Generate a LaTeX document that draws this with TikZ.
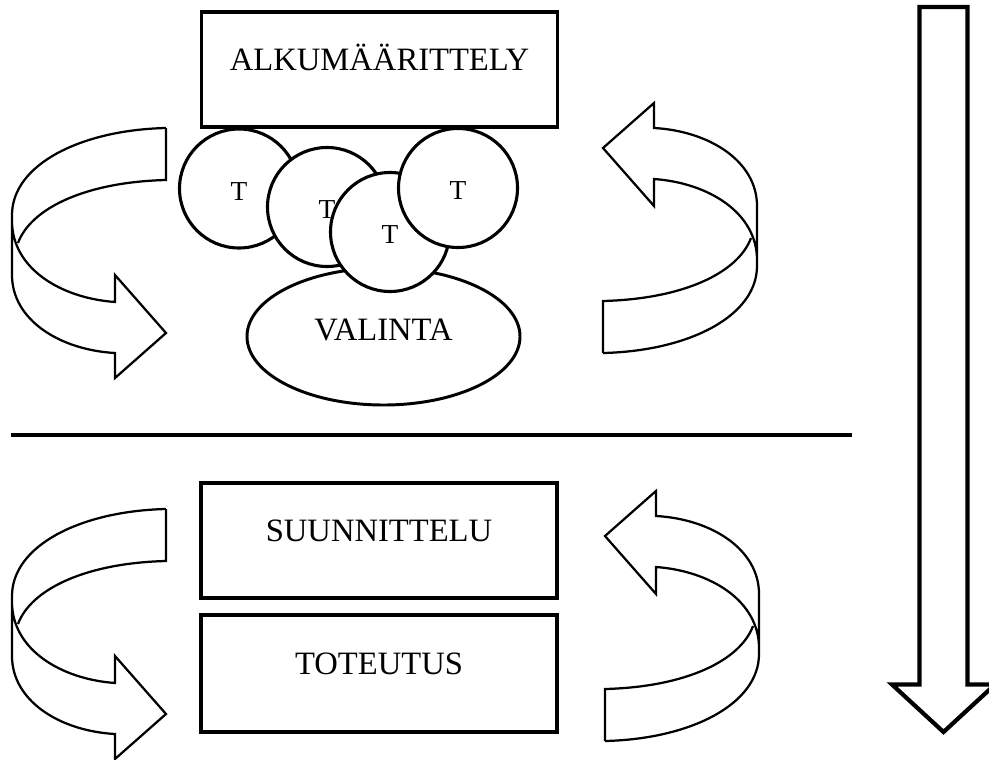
\documentclass[tikz,border=0pt]{standalone}
\usepackage{fontspec}
\setmainfont{Liberation Serif}
\usetikzlibrary{shapes.geometric}

\tikzset{
  phasebox/.style={draw, line width=2.5pt, fill=white, minimum width=89mm,
    minimum height=28.75mm, text height=15pt, text depth=13pt,
    font=\fontsize{23.2}{26}\selectfont},
  choice/.style={draw, ellipse, line width=2.1pt, fill=white,
    minimum width=68.25mm, minimum height=34.25mm, text height=15pt,
    text depth=10pt, font=\fontsize{23.2}{26}\selectfont},
  topic/.style={draw, circle, line width=2.2pt, fill=white, inner sep=0pt,
    minimum size=29.75mm, text height=17pt, text depth=0pt,
    font=\fontsize{19.5}{22}\selectfont},
  turnline/.style={line width=1.6pt},
  % curved ribbon arrow, origin at the upper corner of its tail
  turnarrow/.pic={
    \draw[turnline] (0,0) .. controls (-86,2) and (-154,37) .. (-154,87)
      -- (-154,147) .. controls (-154,192) and (-106,222) .. (-51,225)
      -- (-51,250) -- (0,205) -- (-51,147) -- (-51,174)
      .. controls (-106,170) and (-154,140) .. (-154,93);
    \draw[turnline] (0,0) -- (0,52) .. controls (-80,54) and (-135,80) .. (-148,115);
  }
}

\begin{document}
\begin{tikzpicture}[x=0.25mm, y=-0.25mm]
    \useasboundingbox (0,0) rectangle (989,760);

    % upper half: definition and choice
    \node[phasebox] (alku) at (379.5,69.5) {ALKUMÄÄRITTELY};
    \node[choice] (valinta) at (383.5,336.5) {VALINTA};

    % the overlapping T circles
    \foreach \n/\cx/\cy in {1/239/188.5, 2/327/207, 3/390/232, 4/458/188}
      \node[topic] (t\n) at (\cx,\cy) {T};

    % divider between the halves
    \draw[line width=2.6pt] (11,435) -- (852,435);

    % lower half: design and implementation
    \node[phasebox] (suunn) at (379,540.5) {SUUNNITTELU};
    \node[phasebox, minimum height=29.25mm] (toteutus) at (379,673.5) {TOTEUTUS};

    % iteration arrows on both sides
    \foreach \px/\py/\rot in {166/128/0, 166/509/0, 603/353/180, 605/741/180}
      \pic[rotate=\rot] at (\px,\py) {turnarrow};

    % big downward arrow
    \draw[line width=3pt] (919.5,7) -- (967.5,7) -- (967.5,684.5) -- (995,684.5)
      -- (943.5,732) -- (892,684.5) -- (919.5,684.5) -- cycle;
\end{tikzpicture}
\end{document}
